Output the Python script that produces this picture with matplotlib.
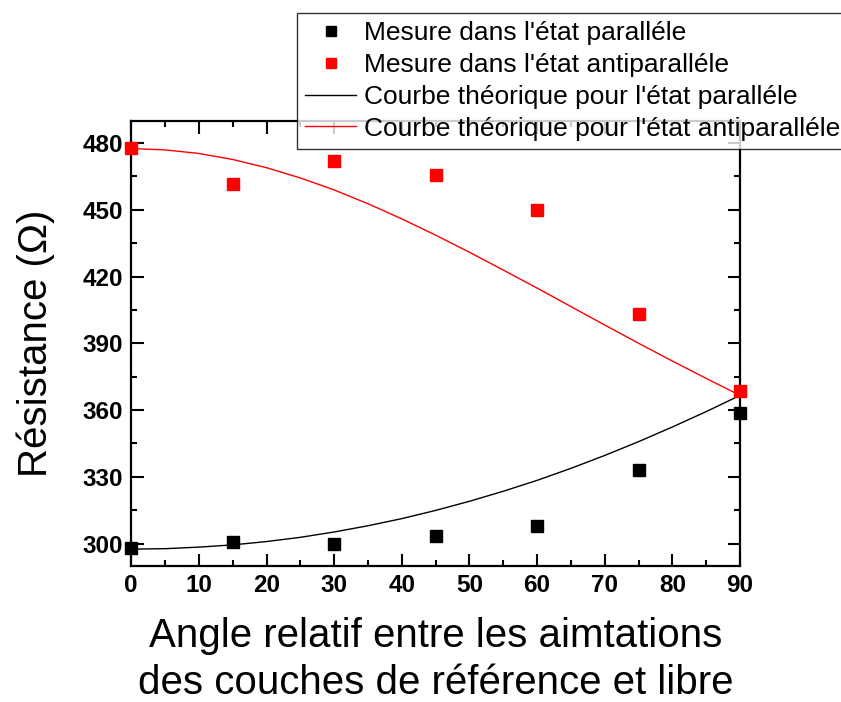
import numpy as np
import matplotlib.pyplot as plt
from matplotlib.ticker import MultipleLocator

plt.rcParams['font.family'] = ['Liberation Sans', 'DejaVu Sans']

# Measured points
angle = [0, 15, 30, 45, 60, 75, 90]
r_par = [298.2, 300.5, 299.7, 303.6, 308.0, 333.2, 358.8]
r_antipar = [477.8, 461.6, 471.9, 465.6, 449.9, 403.2, 368.7]

# Theoretical curves (read every 5 degrees)
angle_th = [0, 5, 10, 15, 20, 25, 30, 35, 40, 45, 50, 55, 60, 65, 70, 75, 80, 85, 90]
r_par_th = [297.5, 297.7, 298.4, 299.4, 300.9, 302.8, 305.2, 308.0, 311.2, 314.9,
            319.0, 323.5, 328.4, 333.8, 339.6, 345.8, 352.4, 359.3, 366.6]
r_antipar_th = [477.5, 476.9, 475.3, 472.6, 468.9, 464.3, 458.9, 452.7, 445.9, 438.6,
                430.9, 422.9, 414.8, 406.5, 398.2, 390.0, 382.0, 374.2, 366.6]

fig = plt.figure(figsize=(8.41, 7.02), dpi=100)
ax = fig.add_axes([0.156, 0.194, 0.724, 0.634])

ax.plot(angle, r_par, 's', color='black', ms=8, clip_on=False, zorder=4,
        label="Mesure dans l'état paralléle")
ax.plot(angle, r_antipar, 's', color='red', ms=8, clip_on=False, zorder=4,
        label="Mesure dans l'état antiparalléle")
ax.plot(angle_th, r_par_th, '-', color='black', lw=1.0,
        label="Courbe théorique pour l'état paralléle")
ax.plot(angle_th, r_antipar_th, '-', color='red', lw=1.0,
        label="Courbe théorique pour l'état antiparalléle")

ax.set_xlim(0, 90)
ax.set_ylim(290, 490)
ax.xaxis.set_major_locator(MultipleLocator(10))
ax.xaxis.set_minor_locator(MultipleLocator(5))
ax.yaxis.set_major_locator(plt.FixedLocator([300, 330, 360, 390, 420, 450, 480]))
ax.yaxis.set_minor_locator(MultipleLocator(15))

ax.tick_params(which='both', direction='in', top=True, right=True, width=1.5)
ax.tick_params(which='major', length=9, labelsize=17.5, pad=6)
ax.tick_params(which='minor', length=4.5)
for lab in ax.get_xticklabels() + ax.get_yticklabels():
    lab.set_fontweight('bold')
for sp in ax.spines.values():
    sp.set_linewidth(1.6)

ax.set_xlabel("Angle relatif entre les aimtations\ndes couches de référence et libre",
              fontsize=29, linespacing=1.3, labelpad=14)
ax.set_ylabel("Résistance (Ω)", fontsize=29, labelpad=20)

leg = fig.legend(loc='upper left', bbox_to_anchor=(297 / 841, 1 - 12.5 / 702),
                 fontsize=19, frameon=True, fancybox=False, edgecolor='black',
                 handlelength=1.9, handletextpad=0.3, labelspacing=0.3,
                 borderpad=0.32, borderaxespad=0, markerscale=0.9)
leg.get_frame().set_linewidth(1.0)
leg.set_zorder(5)

fig.savefig('out.png', dpi=100)
